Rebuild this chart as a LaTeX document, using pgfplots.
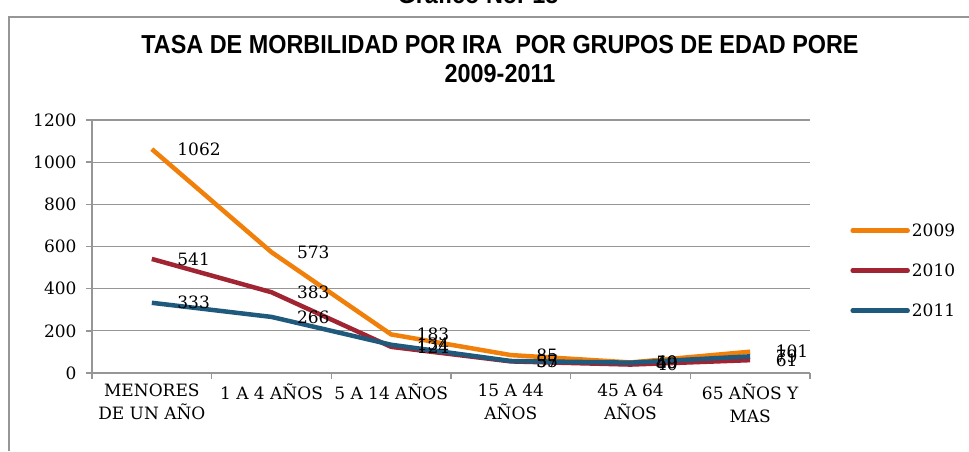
\documentclass[border=0pt]{standalone}
\usepackage{fontspec}
\setmainfont{DejaVu Serif}
\newfontfamily\titlefont[FakeStretch=0.9]{Liberation Sans}
\usepackage{pgfplots}
\pgfplotsset{compat=1.18}
\definecolor{cOrange}{RGB}{240,128,10}
\definecolor{cRed}{RGB}{160,36,50}
\definecolor{cBlue}{RGB}{31,89,124}
\definecolor{cGrid}{RGB}{150,150,150}
\pgfplotstableread{
x y2009 y2010 y2011
0.5 1062 541 333
1.5 573 383 266
2.5 183 124 134
3.5 85 55 57
4.5 50 40 49
5.5 101 61 79
}\datatable
\begin{document}
\begin{tikzpicture}
\useasboundingbox (0pt,0pt) rectangle (969pt,451pt);
\draw[cGrid, line width=2pt] (9pt,0pt) -- (9pt,434pt);
\draw[cGrid, line width=1.5pt] (8pt,434pt) -- (969pt,434pt);
\node[anchor=base, font=\titlefont\bfseries\fontsize{26}{29}\selectfont] at (478pt,447pt) {Gráfico No. 18};
\node[anchor=base, font=\titlefont\bfseries\fontsize{26}{29}\selectfont] at (500pt,397pt) {TASA DE MORBILIDAD POR IRA\ \ POR GRUPOS DE EDAD PORE};
\node[anchor=base, font=\titlefont\bfseries\fontsize{26}{29}\selectfont] at (500pt,369pt) {2009-2011};
\begin{axis}[
  at={(92pt,78pt)}, anchor=south west,
  scale only axis, width=718pt, height=253pt,
  xmin=0, xmax=6, ymin=0, ymax=1200,
  ytick={0,200,...,1200},
  xtick={0,1,...,6},
  xticklabels={},
  extra x ticks={0.5,1.5,...,5.5},
  extra x tick labels={{MENORES\\DE UN AÑO},{1 A 4 AÑOS},{5 A 14 AÑOS},{15 A 44\\AÑOS},{45 A 64\\AÑOS},{65 AÑOS Y\\MAS}},
  extra x tick style={major tick length=0pt, grid=none, xticklabel style={align=center, font=\fontsize{17}{23}\selectfont, anchor=north, yshift=-7pt}},
  yticklabel style={font=\fontsize{17}{20}\selectfont, xshift=-6pt},
  /pgf/number format/assume math mode=true,
  /pgf/number format/1000 sep={},
  axis x line*=bottom, axis y line*=left,
  axis line style={cGrid, line width=1.5pt, -},
  tick align=outside,
  major tick length=6pt,
  tick style={cGrid, line width=1.5pt},
  ymajorgrids, grid style={cGrid, line width=1.3pt},
  clip=false,
  nodes near coords,
  every node near coord/.append style={anchor=west, xshift=20pt, yshift=0pt, font=\fontsize{17}{20}\selectfont, text=black, /pgf/number format/fixed, /pgf/number format/precision=0, /pgf/number format/1000 sep={}, /pgf/number format/assume math mode=true},
  legend style={at={(1.056,0.60)}, anchor=north west, draw=none, fill=none, font=\fontsize{17}{20}\selectfont, row sep=22pt, inner sep=0pt},
  legend cell align=left,
  legend image code/.code={\draw[#1, line cap=round] (0pt,0pt) -- (55pt,0pt);},
]
\addplot[cOrange, line width=4.5pt, line join=round] table[x=x, y=y2009] {\datatable};
\addlegendentry{2009}
\addplot[cRed, line width=4.5pt, line join=round] table[x=x, y=y2010] {\datatable};
\addlegendentry{2010}
\addplot[cBlue, line width=4.5pt, line join=round] table[x=x, y=y2011] {\datatable};
\addlegendentry{2011}
\end{axis}
\end{tikzpicture}
\end{document}
